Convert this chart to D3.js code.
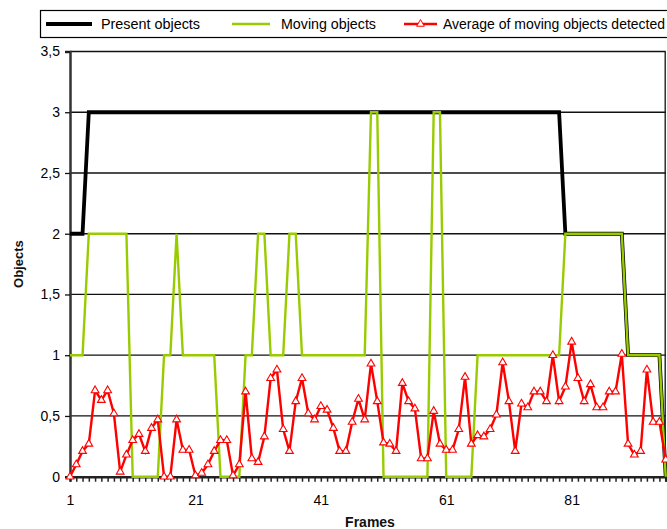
<!DOCTYPE html>
<html>
<head>
<meta charset="utf-8">
<script src="https://cdn.jsdelivr.net/npm/d3@7"></script>
<style>
  body { margin: 0; background: #fff; }
  text { font-family: "Liberation Sans", Arial, sans-serif; }
</style>
</head>
<body>
<svg></svg>
<script>
// values, one per frame (frames 1..96)
var presentObjects = [2,2,2,3,3,3,3,3,3,3, 3,3,3,3,3,3,3,3,3,3,
  3,3,3,3,3,3,3,3,3,3, 3,3,3,3,3,3,3,3,3,3, 3,3,3,3,3,3,3,3,3,3,
  3,3,3,3,3,3,3,3,3,3, 3,3,3,3,3,3,3,3,3,3, 3,3,3,3,3,3,3,3,3,2,
  2,2,2,2,2,2,2,2,2,1, 1,1,1,1,1,0];

var movingObjects = [1,1,1,2,2,2,2,2,2,2, 0,0,0,0,0,1,1,2,1,1,
  1,1,1,1,0,0,0,0,1,1, 2,2,1,1,1,2,2,1,1,1, 1,1,1,1,1,1,1,1,3,3,
  0,0,0,0,0,0,0,0,3,3, 0,0,0,0,0,1,1,1,1,1, 1,1,1,1,1,1,1,1,1,2,
  2,2,2,2,2,2,2,2,2,1, 1,1,1,1,1,0];

var avgDetected = [0,0.10,0.21,0.27,0.71,0.63,0.71,0.52,0.04,0.18,
  0.30,0.35,0.21,0.40,0.47,0,0,0.47,0.22,0.22,
  0.01,0.03,0.10,0.21,0.30,0.30,0.01,0.10,0.70,0.15,
  0.12,0.33,0.81,0.88,0.39,0.21,0.62,0.81,0.52,0.47,
  0.58,0.55,0.40,0.21,0.21,0.45,0.64,0.47,0.93,0.62,
  0.28,0.27,0.21,0.77,0.62,0.56,0.15,0.15,0.54,0.27,
  0.22,0.22,0.39,0.82,0.27,0.34,0.33,0.39,0.51,0.94,
  0.62,0.21,0.60,0.57,0.70,0.70,0.62,1.00,0.62,0.74,
  1.11,0.81,0.62,0.76,0.57,0.57,0.70,0.70,1.01,0.27,
  0.18,0.21,0.88,0.45,0.45,0.14];

var xTickLabels = [1, 21, 41, 61, 81];
var yTicks = [0, 0.5, 1, 1.5, 2, 2.5, 3, 3.5];
var legendNames = ["Present objects", "Moving objects", "Average of moving objects detected"];

var width = 667;
var height = 529;
var margin = { "top": 51.5, "right": 1.3, "bottom": 52.3, "left": 70 };

var svg = d3.select('svg')
  .attr("width", width)
  .attr("height", height);

var nFrames = avgDetected.length;

var scaleX = d3.scaleLinear()
  .domain([1, nFrames])
  .range([margin.left, width - margin.right]);

var scaleY = d3.scaleLinear()
  .domain([0, 3.5])
  .range([height - margin.bottom, margin.top]);

function toPoints(arr) {
  return arr.map(function(v, i) { return { f: i + 1, v: v }; });
}

var fmt = function(d) { return String(d).replace(".", ","); };

// gridlines
svg.append("g")
  .selectAll("line")
  .data(yTicks.slice(1))
  .enter()
  .append("line")
  .attr("x1", margin.left)
  .attr("x2", width - margin.right)
  .attr("y1", function(d) { return scaleY(d); })
  .attr("y2", function(d) { return scaleY(d); })
  .attr("stroke", "#111")
  .attr("stroke-width", 1.3);

// right border
svg.append("line")
  .attr("x1", width - margin.right - 0.5).attr("x2", width - margin.right - 0.5)
  .attr("y1", scaleY(3.5)).attr("y2", scaleY(0))
  .attr("stroke", "#111").attr("stroke-width", 1.3);

// y axis
var yAxis = d3.axisLeft(scaleY)
  .tickValues(yTicks)
  .tickSize(5)
  .tickFormat(fmt);

var gy = svg.append("g")
  .attr("transform", "translate(" + margin.left + ",0)")
  .call(yAxis);
gy.select(".domain").attr("stroke", "#333").attr("stroke-width", 2.5);
gy.selectAll(".tick line").attr("stroke", "#111").attr("stroke-width", 1.3);
gy.selectAll(".tick text")
  .attr("x", -10)
  .attr("font-size", 14)
  .attr("fill", "#000")
  .style("font-family", "'Liberation Sans', Arial, sans-serif");

// x axis: one small tick per frame, labels every 20
var xAxis = d3.axisBottom(scaleX)
  .tickValues(d3.range(1, nFrames + 1))
  .tickSize(5)
  .tickFormat(function(d) { return xTickLabels.indexOf(d) >= 0 ? d : ""; });

var gx = svg.append("g")
  .attr("transform", "translate(0," + scaleY(0) + ")")
  .call(xAxis);
gx.select(".domain").attr("stroke", "#222").attr("stroke-width", 2.5);
gx.selectAll(".tick line").attr("stroke", "#222").attr("stroke-width", 1.5);
gx.selectAll(".tick text")
  .attr("y", 18)
  .attr("font-size", 14)
  .attr("fill", "#000")
  .style("font-family", "'Liberation Sans', Arial, sans-serif");

// axis titles
svg.append("text")
  .attr("transform", "translate(23," + (scaleY(1.75)) + ") rotate(-90)")
  .attr("text-anchor", "middle")
  .attr("font-size", 13)
  .attr("font-weight", "bold")
  .attr("fill", "#111")
  .text("Objects");

svg.append("text")
  .attr("x", 370)
  .attr("y", 527)
  .attr("text-anchor", "middle")
  .attr("font-size", 14)
  .attr("font-weight", "bold")
  .attr("fill", "#111")
  .text("Frames");

var line = d3.line()
  .x(function(d) { return scaleX(d.f); })
  .y(function(d) { return scaleY(d.v); });

svg.append("path")
  .datum(toPoints(presentObjects))
  .attr("d", line)
  .attr("fill", "none")
  .attr("stroke", "#000")
  .attr("stroke-width", 3.8);

svg.append("path")
  .datum(toPoints(movingObjects))
  .attr("d", line)
  .attr("fill", "none")
  .attr("stroke", "#99cc00")
  .attr("stroke-width", 2.4);

svg.append("path")
  .datum(toPoints(avgDetected))
  .attr("d", line)
  .attr("fill", "none")
  .attr("stroke", "#ff0000")
  .attr("stroke-width", 2.4);

var tri = d3.symbol().type(d3.symbolTriangle).size(26);

svg.append("g")
  .selectAll("path")
  .data(toPoints(avgDetected))
  .enter()
  .append("path")
  .attr("d", tri)
  .attr("transform", function(d) { return "translate(" + scaleX(d.f) + "," + scaleY(d.v) + ")"; })
  .attr("fill", "#fff")
  .attr("stroke", "#ff0000")
  .attr("stroke-width", 1.1);

// legend
var lg = svg.append("g");
lg.append("rect")
  .attr("x", 40.5).attr("y", 10.5)
  .attr("width", 640).attr("height", 27)
  .attr("fill", "#fff")
  .attr("stroke", "#000")
  .attr("stroke-width", 1.2);

var legendItems = [
  { name: legendNames[0], x1: 46, x2: 92, tx: 101, tw: 99, color: "#000", w: 3.8 },
  { name: legendNames[1], x1: 232, x2: 270, tx: 281, tw: 95, color: "#99cc00", w: 2.4 },
  { name: legendNames[2], x1: 404, x2: 437, tx: 443, tw: 222, color: "#ff0000", w: 2.4 }
];

legendItems.forEach(function(it, i) {
  lg.append("line")
    .attr("x1", it.x1).attr("x2", it.x2)
    .attr("y1", 24).attr("y2", 24)
    .attr("stroke", it.color)
    .attr("stroke-width", it.w);
  if (i == 2) {
    lg.append("path")
      .attr("d", tri)
      .attr("transform", "translate(" + ((it.x1 + it.x2) / 2) + ",24)")
      .attr("fill", "#fff")
      .attr("stroke", "#ff0000");
  }
  lg.append("text")
    .attr("x", it.tx)
    .attr("y", 29)
    .attr("font-size", 14)
    .attr("fill", "#000")
    .attr("textLength", it.tw)
    .attr("lengthAdjust", "spacingAndGlyphs")
    .text(it.name);
});
</script>
</body>
</html>
